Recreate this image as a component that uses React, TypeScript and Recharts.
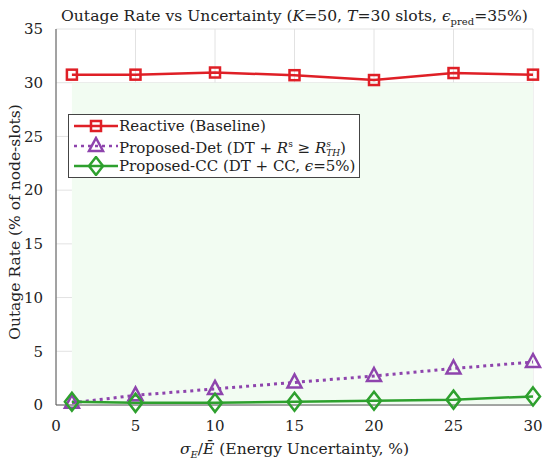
import { CartesianGrid, Legend, Line, LineChart, ReferenceArea, XAxis, YAxis } from 'recharts';

// values
const xVals = [1, 5, 10, 15, 20, 25, 30];
const reactive = [30.75, 30.75, 30.95, 30.7, 30.25, 30.9, 30.75];
const proposedDet = [0.2, 0.9, 1.5, 2.1, 2.7, 3.4, 4.0];
const proposedCC = [0.3, 0.2, 0.2, 0.3, 0.4, 0.5, 0.8];
const xTicks = [0, 5, 10, 15, 20, 25, 30];
const yTicks = [0, 5, 10, 15, 20, 25, 30, 35];

const data = xVals.map((x, i) => ({
  x,
  reactive: reactive[i],
  det: proposedDet[i],
  cc: proposedCC[i],
}));

const FONT = 'DejaVu Serif';
const RED = '#df1f26';
const PURPLE = '#8e44ad';
const GREEN = '#2ea02e';
const AXIS = '#555';

const Square = ({ cx, cy, color }: any) => (
  <rect x={cx - 5} y={cy - 5} width={10} height={10} fill="none" stroke={color} strokeWidth={2.5} />
);
const Triangle = ({ cx, cy, color }: any) => (
  <path
    d={`M${cx},${cy - 8} L${cx + 7},${cy + 5} L${cx - 7},${cy + 5} Z`}
    fill="none"
    stroke={color}
    strokeWidth={2.5}
  />
);
const Diamond = ({ cx, cy, color }: any) => (
  <path
    d={`M${cx},${cy - 9} L${cx + 7},${cy} L${cx},${cy + 9} L${cx - 7},${cy} Z`}
    fill="none"
    stroke={color}
    strokeWidth={2.5}
  />
);

const dotOf = (Shape: any, color: string) => (p: any) =>
  p.cx == null ? <g key={p.key} /> : <Shape key={p.key} cx={p.cx} cy={p.cy} color={color} />;

const LEGEND_ROWS = [
  { color: RED, dash: undefined, Shape: Square, label: <>Reactive (Baseline)</> },
  {
    color: PURPLE,
    dash: '3 4',
    Shape: Triangle,
    label: (
      <>
        Proposed-Det (DT + <i>R</i>
        <sup style={{ fontSize: 9 }}>s</sup> ≥ <i>R</i>
        <span style={{ display: 'inline-flex', flexDirection: 'column', verticalAlign: 'middle', fontSize: 9, lineHeight: '9px' }}>
          <i>s</i>
          <i>TH</i>
        </span>
        )
      </>
    ),
  },
  {
    color: GREEN,
    dash: undefined,
    Shape: Diamond,
    label: (
      <>
        Proposed-CC (DT + CC, <i>ϵ</i>=5%)
      </>
    ),
  },
];

function LegendBox() {
  return (
    <div
      style={{
        border: `1px solid #444`,
        background: '#fff',
        padding: '1px 4px 1px 3px',
        fontFamily: FONT,
        fontSize: 15,
        color: '#222',
        lineHeight: '20px',
      }}
    >
      {LEGEND_ROWS.map((r, i) => (
        <div key={i} style={{ display: 'flex', alignItems: 'center', height: 20, whiteSpace: 'nowrap' }}>
          <svg width={47} height={20} style={{ flex: 'none', marginRight: 0 }}>
            <line x1={2} y1={10} x2={46} y2={10} stroke={r.color} strokeWidth={2.5} strokeDasharray={r.dash} />
            <r.Shape cx={24} cy={10} color={r.color} />
          </svg>
          <span>{r.label}</span>
        </div>
      ))}
    </div>
  );
}

function XLabel({ viewBox }: any) {
  const cx = viewBox.x + viewBox.width / 2;
  const y = viewBox.y + 49;
  return (
    <text x={cx} y={y} textAnchor="middle" fontFamily={FONT} fontSize={15.5} fill="#222">
      <tspan fontStyle="italic">σ</tspan>
      <tspan fontStyle="italic" fontSize={10} dy={4}>E</tspan>
      <tspan dy={-4}>/</tspan>
      <tspan fontStyle="italic">{'E\u0304'}</tspan>
      <tspan> (Energy Uncertainty, %)</tspan>
    </text>
  );
}

function YLabel() {
  return (
    <text
      x={20}
      y={222}
      transform="rotate(-90 20 222)"
      textAnchor="middle"
      fontFamily={FONT}
      fontSize={15.5}
      fill="#222"
    >
      Outage Rate (% of node-slots)
    </text>
  );
}

export default function App() {
  const tickStyle = { fill: '#222', fontSize: 15, fontFamily: FONT };
  return (
    <div style={{ position: 'absolute', left: 0, top: 0, width: 550, height: 461, background: '#fff' }}>
      <div
        style={{
          position: 'absolute',
          left: 56,
          top: 7,
          width: 477,
          textAlign: 'center',
          fontFamily: FONT,
          fontSize: 15.6,
          color: '#222',
          whiteSpace: 'nowrap',
        }}
      >
        Outage Rate vs Uncertainty (<i>K</i>=50, <i>T</i>=30 slots, <i>ϵ</i>
        <sub style={{ fontSize: 10 }}>pred</sub>=35%)
      </div>
      <LineChart width={550} height={461} data={data} margin={{ top: 29, right: 17, bottom: 0, left: 0 }}>
        <ReferenceArea x1={1} x2={30} y1={0} y2={30} fill="#f2fcf2" fillOpacity={1} stroke="none" ifOverflow="hidden" />
        <CartesianGrid stroke="#e2e2e2" strokeWidth={1} />
        <XAxis
          dataKey="x"
          type="number"
          domain={[0, 30]}
          ticks={xTicks}
          height={56}
          tick={tickStyle}
          tickLine={false}
          tickMargin={9}
          stroke={AXIS}
          label={<XLabel />}
        />
        <XAxis
          xAxisId="top"
          orientation="top"
          type="number"
          domain={[0, 30]}
          ticks={xTicks}
          height={0}
          mirror
          tick={false}
          tickSize={5}
          stroke={AXIS}
        />
        <YAxis
          type="number"
          domain={[0, 35]}
          ticks={yTicks}
          width={56}
          tick={tickStyle}
          tickLine={false}
          tickMargin={7}
          stroke={AXIS}
          label={<YLabel />}
        />
        <YAxis
          yAxisId="right"
          orientation="right"
          type="number"
          domain={[0, 35]}
          ticks={yTicks}
          width={0}
          mirror
          tick={false}
          tickSize={5}
          stroke={AXIS}
        />
        <Line
          dataKey="reactive"
          stroke={RED}
          strokeWidth={2.5}
          dot={dotOf(Square, RED)}
          activeDot={false}
          isAnimationActive={false}
        />
        <Line
          dataKey="det"
          stroke={PURPLE}
          strokeWidth={3}
          strokeDasharray="3 4"
          dot={dotOf(Triangle, PURPLE)}
          activeDot={false}
          isAnimationActive={false}
        />
        <Line
          dataKey="cc"
          stroke={GREEN}
          strokeWidth={2.5}
          dot={dotOf(Diamond, GREEN)}
          activeDot={false}
          isAnimationActive={false}
        />
        <Legend
          align="center"
          verticalAlign="middle"
          content={<LegendBox />}
          wrapperStyle={{ left: 68, top: 114, width: 'auto', height: 'auto' }}
        />
      </LineChart>
    </div>
  );
}
